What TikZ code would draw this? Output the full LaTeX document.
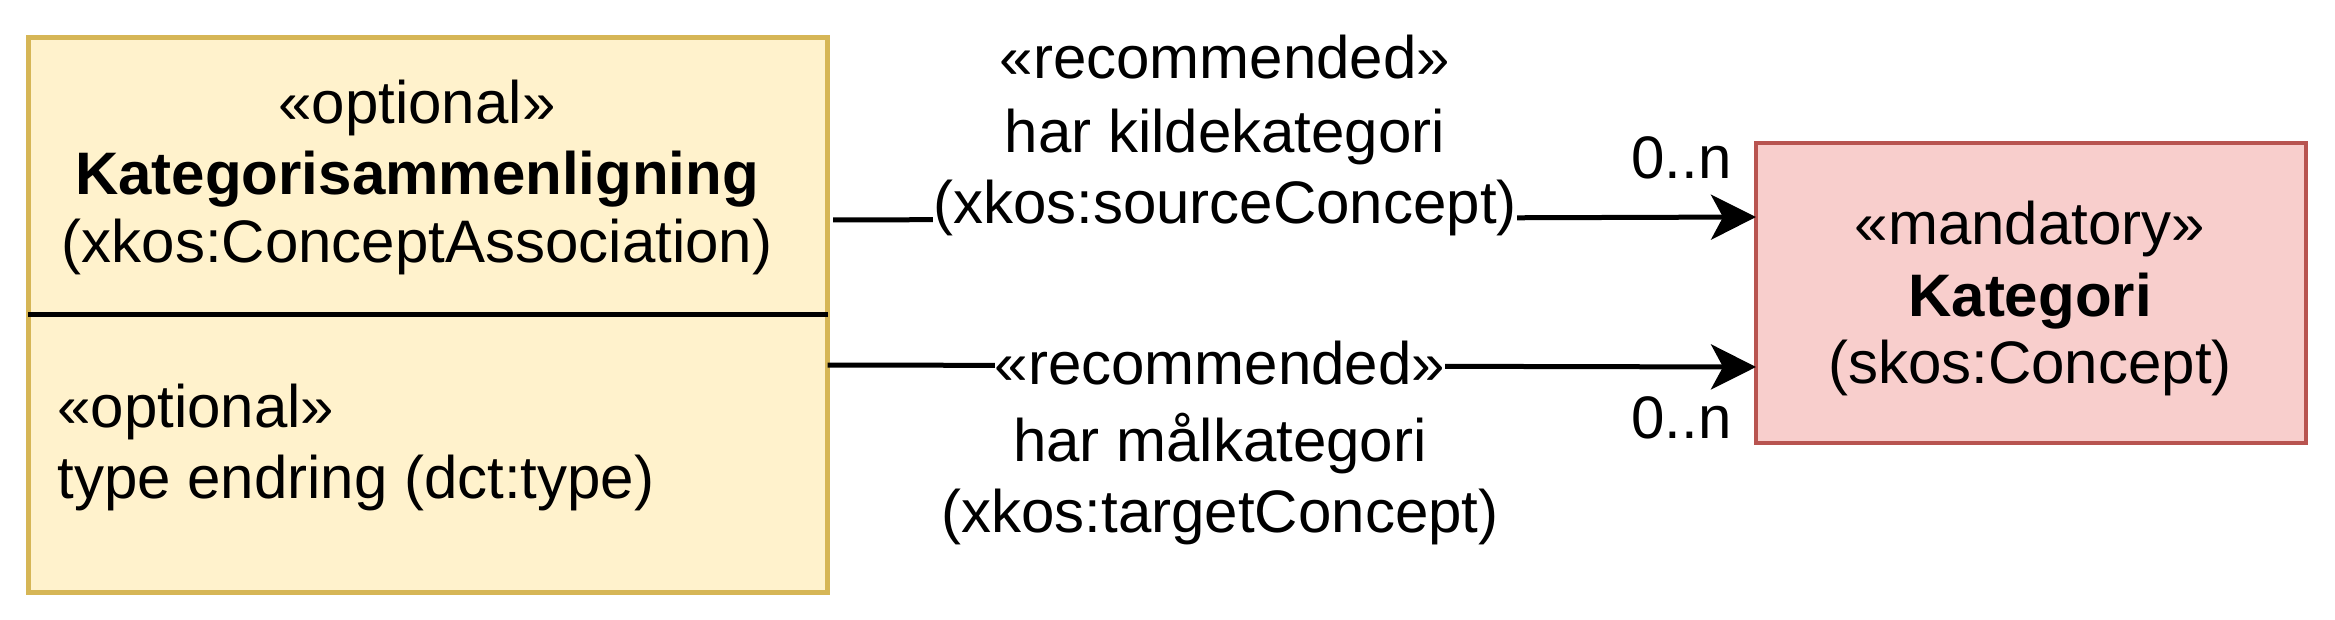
\documentclass[tikz,border=0pt]{standalone}
\usepackage{fontspec}
\setmainfont{Liberation Sans}
\usetikzlibrary{arrows.meta}
\definecolor{optfill}{HTML}{FFF2CC}
\definecolor{optdraw}{HTML}{D6B656}
\definecolor{manfill}{HTML}{F8CECC}
\definecolor{mandraw}{HTML}{B85450}
\begin{document}
\begin{tikzpicture}[x=0.5pt,y=-0.5pt,
  txt/.style={font=\fontsize{30}{34.5}\selectfont, inner sep=0pt, anchor=base},
  lbl/.style={txt, fill=white},
  optbox/.style={draw=optdraw, fill=optfill, line width=2.5pt, outer sep=0pt, inner sep=0pt, anchor=north west},
  manbox/.style={draw=mandraw, fill=manfill, line width=2.3pt, outer sep=0pt, inner sep=0pt, anchor=north west},
  conn/.style={line width=2.5pt, -{Stealth[length=22.5pt, width=22.5pt, inset=6pt]}}]
\useasboundingbox (0,0) rectangle (2335,620);
% boxes
\node[optbox, minimum width=399.75pt, minimum height=277pt] (L) at (28,38) {};
\draw[line width=2.5pt] (L.west |- 0,315) -- (L.east |- 0,315);
\node[manbox, minimum width=275pt, minimum height=150pt] (R) at (1756,143) {};
% left box text
\node[txt] (l1) at (417,124) {«optional»};
\node[txt] (l2) at (417,195) {\textbf{Kategorisammenligning}};
\node[txt] (l3) at (417,263) {(xkos:ConceptAssociation)};
\node[txt, anchor=base west] (a1) at (57,427) {«optional»};
\node[txt, anchor=base west] (a2) at (57,498) {type endring (dct:type)};
% right box text
\node[txt] (r1) at (2030,245) {«mandatory»};
\node[txt] (r2) at (2030,316) {\textbf{Kategori}};
\node[txt] (r3) at (2030,383) {(skos:Concept)};
% connectors
\coordinate (s1) at (833,220);
\coordinate (e1) at (1756,217);
\coordinate (e2) at (1756,367);
\draw[conn] (s1) -- (e1);
\draw[conn] (L.east |- 0,365) -- (e2);
% connector labels
\node[lbl] (t1) at (1225,79) {«recommended»};
\node[lbl] (t2) at (1225,153) {har kildekategori};
\node[lbl] (t3) at (1225,224) {(xkos:sourceConcept)};
\node[lbl] (b1) at (1220,385) {«recommended»};
\node[lbl] (b2) at (1220,461) {har målkategori};
\node[lbl] (b3) at (1220,532) {(xkos:targetConcept)};
% multiplicities
\node[txt, anchor=base east] (m1) at (1732,179) {0..n};
\node[txt, anchor=base east] (m2) at (1732,438) {0..n};
\end{tikzpicture}
\end{document}
